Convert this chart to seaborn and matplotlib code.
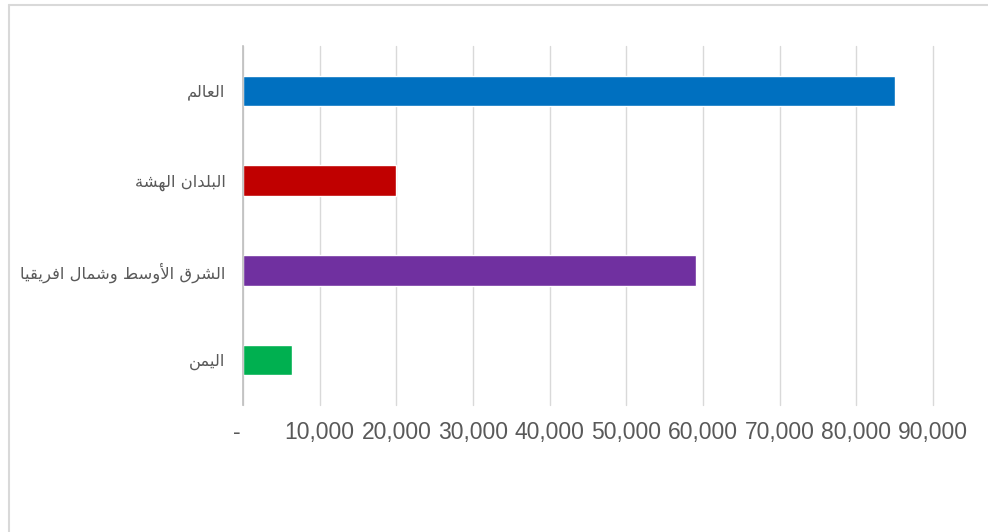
import matplotlib
matplotlib.use("Agg")
import matplotlib.pyplot as plt
from matplotlib.lines import Line2D
from matplotlib.ticker import FuncFormatter, MultipleLocator
import seaborn as sns
import pandas as pd

# ---- data ----
categories = ["العالم", "البلدان الهشة", "الشرق الأوسط وشمال افريقيا", "اليمن"]
values = [85000, 20000, 59100, 6400]
colors = ["#0070C0", "#C00000", "#7030A0", "#00B050"]
x_max = 90000
x_step = 10000

# ---- minimal Arabic shaping (matplotlib has no complex text layout) ----
FORMS = {
    '\u0627': ('\uFE8D', '\uFE8E', None, None),
    '\u0623': ('\uFE83', '\uFE84', None, None),
    '\u0628': ('\uFE8F', '\uFE90', '\uFE91', '\uFE92'),
    '\u0629': ('\uFE93', '\uFE94', None, None),
    '\u062F': ('\uFEA9', '\uFEAA', None, None),
    '\u0631': ('\uFEAD', '\uFEAE', None, None),
    '\u0633': ('\uFEB1', '\uFEB2', '\uFEB3', '\uFEB4'),
    '\u0634': ('\uFEB5', '\uFEB6', '\uFEB7', '\uFEB8'),
    '\u0637': ('\uFEC1', '\uFEC2', '\uFEC3', '\uFEC4'),
    '\u0639': ('\uFEC9', '\uFECA', '\uFECB', '\uFECC'),
    '\u0641': ('\uFED1', '\uFED2', '\uFED3', '\uFED4'),
    '\u0642': ('\uFED5', '\uFED6', '\uFED7', '\uFED8'),
    '\u0644': ('\uFEDD', '\uFEDE', '\uFEDF', '\uFEE0'),
    '\u0645': ('\uFEE1', '\uFEE2', '\uFEE3', '\uFEE4'),
    '\u0646': ('\uFEE5', '\uFEE6', '\uFEE7', '\uFEE8'),
    '\u0647': ('\uFEE9', '\uFEEA', '\uFEEB', '\uFEEC'),
    '\u0648': ('\uFEED', '\uFEEE', None, None),
    '\u064A': ('\uFEF1', '\uFEF2', '\uFEF3', '\uFEF4'),
}
LAM_ALEF = {'\u0627': ('\uFEFB', '\uFEFC'), '\u0623': ('\uFEF7', '\uFEF8')}


def shape(s):
    units = []
    i = 0
    while i < len(s):
        c = s[i]
        if c == '\u0644' and i + 1 < len(s) and s[i + 1] in LAM_ALEF:
            units.append(('LA', s[i + 1]))
            i += 2
        else:
            units.append(('C', c))
            i += 1

    def dual(u):
        return u[0] == 'C' and u[1] in FORMS and FORMS[u[1]][2] is not None

    def joining(u):
        return u[0] == 'LA' or u[1] in FORMS

    out = []
    for k, u in enumerate(units):
        prev = units[k - 1] if k > 0 else None
        nxt = units[k + 1] if k + 1 < len(units) else None
        jp = prev is not None and dual(prev) and joining(u)
        if u[0] == 'LA':
            out.append(LAM_ALEF[u[1]][1 if jp else 0])
            continue
        c = u[1]
        if c not in FORMS:
            out.append(c)
            continue
        jn = dual(u) and nxt is not None and joining(nxt)
        iso, fin, ini, med = FORMS[c]
        out.append(med if (jp and jn) else fin if jp else ini if jn else iso)
    return ''.join(reversed(out))


df = pd.DataFrame({"cat": categories, "val": values})

sns.set_theme(style="white")
plt.rcParams['font.family'] = ['Liberation Sans', 'DejaVu Sans']

W, H = 988, 532
fig = plt.figure(figsize=(W / 100, H / 100), dpi=100)
left, right, top, bottom = 243, 933, 46, 405
ax = fig.add_axes([left / W, 1 - bottom / H, (right - left) / W, (bottom - top) / H])

sns.barplot(data=df, y="cat", x="val", hue="cat", palette=colors,
            orient="h", width=0.34, legend=False, ax=ax, saturation=1)

ax.set_xlim(0, x_max)
ax.set_ylim(len(categories) - 0.5, -0.5)
ax.xaxis.set_major_locator(MultipleLocator(x_step))
ax.xaxis.set_major_formatter(FuncFormatter(lambda v, p: "" if v == 0 else f"{int(v):,}"))
ax.grid(axis="x", color="#D9D9D9", lw=1)
for gl in ax.get_xgridlines():
    gl.set_clip_on(False)
ax.set_axisbelow(True)
for s in ["top", "right", "bottom"]:
    ax.spines[s].set_visible(False)
ax.spines["left"].set_color("#BFBFBF")
ax.spines["left"].set_linewidth(1.2)
ax.set_xlabel("")
ax.set_ylabel("")

ax.tick_params(axis="x", length=0, pad=11.5, labelsize=16.5, labelcolor="#595959")
ax.tick_params(axis="y", length=0, pad=12.5, labelcolor="#595959")
ax.set_yticks(range(len(categories)))
ax.set_yticklabels([shape(c) for c in categories], family=['DejaVu Sans'],
                   fontsize=11.8, color="#595959")

# zero label "-" (accounting style), a little left of the axis as in the reference
ax.annotate("-", xy=(0, 0), xycoords=("data", "axes fraction"),
            xytext=(-6, -11.5 * 100 / 72), textcoords="offset pixels",
            ha="center", va="top", fontsize=16.5, color="#595959")

# chart frame (left and top borders visible in the crop)
fig.add_artist(Line2D([9 / W, 9 / W], [0, 1 - 5 / H], transform=fig.transFigure,
                      color="#D9D9D9", lw=1.5))
fig.add_artist(Line2D([9 / W, 1], [1 - 5 / H, 1 - 5 / H], transform=fig.transFigure,
                      color="#D9D9D9", lw=1.5))

fig.savefig("out.png", dpi=100, facecolor="white")
